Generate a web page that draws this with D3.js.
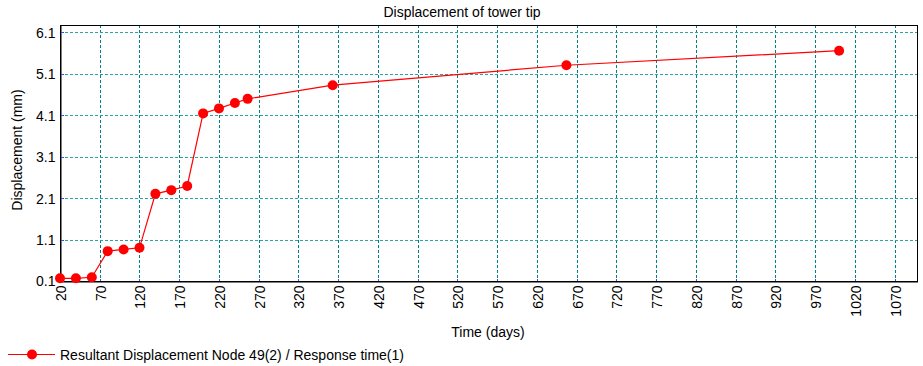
<!DOCTYPE html>
<html>
<head>
<meta charset="utf-8">
<script src="https://cdn.jsdelivr.net/npm/d3@7"></script>
<style>
  html, body { margin: 0; padding: 0; background: #fff; }
  svg { display: block; font-family: "Liberation Sans", Arial, sans-serif; }
</style>
</head>
<body>
<svg id="chart" width="923" height="366"></svg>
<script>
// Tower tip displacement over time
const timeDays = [20, 40, 60, 80, 100, 120, 140, 160, 180, 200, 220, 240, 256, 363, 657, 1000];
const displacementMm = [0.165, 0.165, 0.19, 0.82, 0.86, 0.90, 2.20, 2.29, 2.39, 4.14, 4.26, 4.39, 4.49, 4.82, 5.30, 5.65];
const xTickValues = [20, 70, 120, 170, 220, 270, 320, 370, 420, 470, 520, 570, 620, 670, 720, 770, 820, 870, 920, 970, 1020, 1070];
const yTickValues = [0.1, 1.1, 2.1, 3.1, 4.1, 5.1, 6.1];
const seriesName = "Resultant Displacement Node 49(2) / Response time(1)";

const FONT = 14;
const svg = d3.select("#chart");
const m = { left: 60, right: 917, top: 25, bottom: 281 };

const x = d3.scaleLinear().domain([20, 1098]).range([m.left, m.right]);
const y = d3.scaleLinear().domain([0.1, 6.27]).range([m.bottom, m.top]);

// grid
const grid = svg.append("g");
grid.selectAll("line.vx").data(xTickValues.slice(1)).join("line")
  .attr("x1", d => Math.round(x(d)) + 0.5).attr("x2", d => Math.round(x(d)) + 0.5)
  .attr("y1", m.top).attr("y2", m.bottom)
  .attr("stroke", "#008080").attr("stroke-width", 1).attr("stroke-dasharray", "3,2");
grid.selectAll("line.hy").data(yTickValues.slice(1)).join("line")
  .attr("x1", m.left).attr("x2", m.right)
  .attr("y1", d => Math.round(y(d)) + 0.5).attr("y2", d => Math.round(y(d)) + 0.5)
  .attr("stroke", "#2aa3a3").attr("stroke-width", 1).attr("stroke-dasharray", "3,2");

// frame
svg.append("rect")
  .attr("x", m.left + 0.5).attr("y", m.top + 0.5)
  .attr("width", m.right - m.left).attr("height", m.bottom - m.top)
  .attr("fill", "none").attr("stroke", "#000").attr("stroke-width", 1);

// axes
const xAxis = svg.append("g")
  .attr("transform", `translate(0.5,${m.bottom + 0.5})`)
  .call(d3.axisBottom(x).tickValues(xTickValues).tickSize(0).tickPadding(0).tickFormat(d3.format("d")));
xAxis.select(".domain").attr("stroke", "#000");
xAxis.selectAll("text")
  .attr("transform", "rotate(-90)")
  .attr("x", -4).attr("y", 0).attr("dy", "0.35em")
  .style("text-anchor", "end")
  .attr("font-size", FONT).attr("fill", "#000").attr("font-family", "Liberation Sans, Arial, sans-serif");

const yAxis = svg.append("g")
  .attr("transform", `translate(${m.left + 0.5},0.5)`)
  .call(d3.axisLeft(y).tickValues(yTickValues).tickSize(0).tickPadding(5).tickFormat(d3.format(".1f")));
yAxis.select(".domain").attr("stroke", "#000");
yAxis.selectAll("text")
  .attr("font-size", FONT).attr("fill", "#000").attr("font-family", "Liberation Sans, Arial, sans-serif");

// small blue tick marks inside the frame
svg.append("g").selectAll("line").data(xTickValues).join("line")
  .attr("x1", d => Math.round(x(d)) + 0.5).attr("x2", d => Math.round(x(d)) + 0.5)
  .attr("y1", m.bottom - 2).attr("y2", m.bottom)
  .attr("stroke", "#3050ff");
svg.append("g").selectAll("line").data(yTickValues).join("line")
  .attr("x1", m.left + 1).attr("x2", m.left + 4)
  .attr("y1", d => Math.round(y(d)) + 0.5).attr("y2", d => Math.round(y(d)) + 0.5)
  .attr("stroke", "#3050ff");

// series
const pts = timeDays.map((t, i) => [t, displacementMm[i]]);
svg.append("path").datum(pts)
  .attr("d", d3.line().x(d => x(d[0])).y(d => y(d[1])))
  .attr("fill", "none").attr("stroke", "#ff0000").attr("stroke-width", 1.2);
svg.append("g").selectAll("circle").data(pts).join("circle")
  .attr("cx", d => x(d[0])).attr("cy", d => y(d[1])).attr("r", 5)
  .attr("fill", "#ff0000");

// titles
svg.append("text").attr("x", 462).attr("y", 17)
  .attr("text-anchor", "middle").attr("font-size", FONT).attr("fill", "#000")
  .text("Displacement of tower tip");
svg.append("text").attr("x", 488).attr("y", 337)
  .attr("text-anchor", "middle").attr("font-size", FONT).attr("fill", "#000")
  .text("Time (days)");
svg.append("text").attr("transform", "translate(22,150) rotate(-90)")
  .attr("text-anchor", "middle").attr("font-size", FONT).attr("fill", "#000")
  .text("Displacement (mm)");

// legend
const lg = svg.append("g").attr("transform", "translate(0,354)");
lg.append("line").attr("x1", 8).attr("x2", 55).attr("y1", 0.5).attr("y2", 0.5)
  .attr("stroke", "#ff0000").attr("stroke-width", 1.2);
lg.append("circle").attr("cx", 32).attr("cy", 0.5).attr("r", 5).attr("fill", "#ff0000");
lg.append("text").attr("x", 60).attr("y", 6).attr("font-size", FONT).attr("fill", "#000")
  .text(seriesName);
</script>
</body>
</html>
